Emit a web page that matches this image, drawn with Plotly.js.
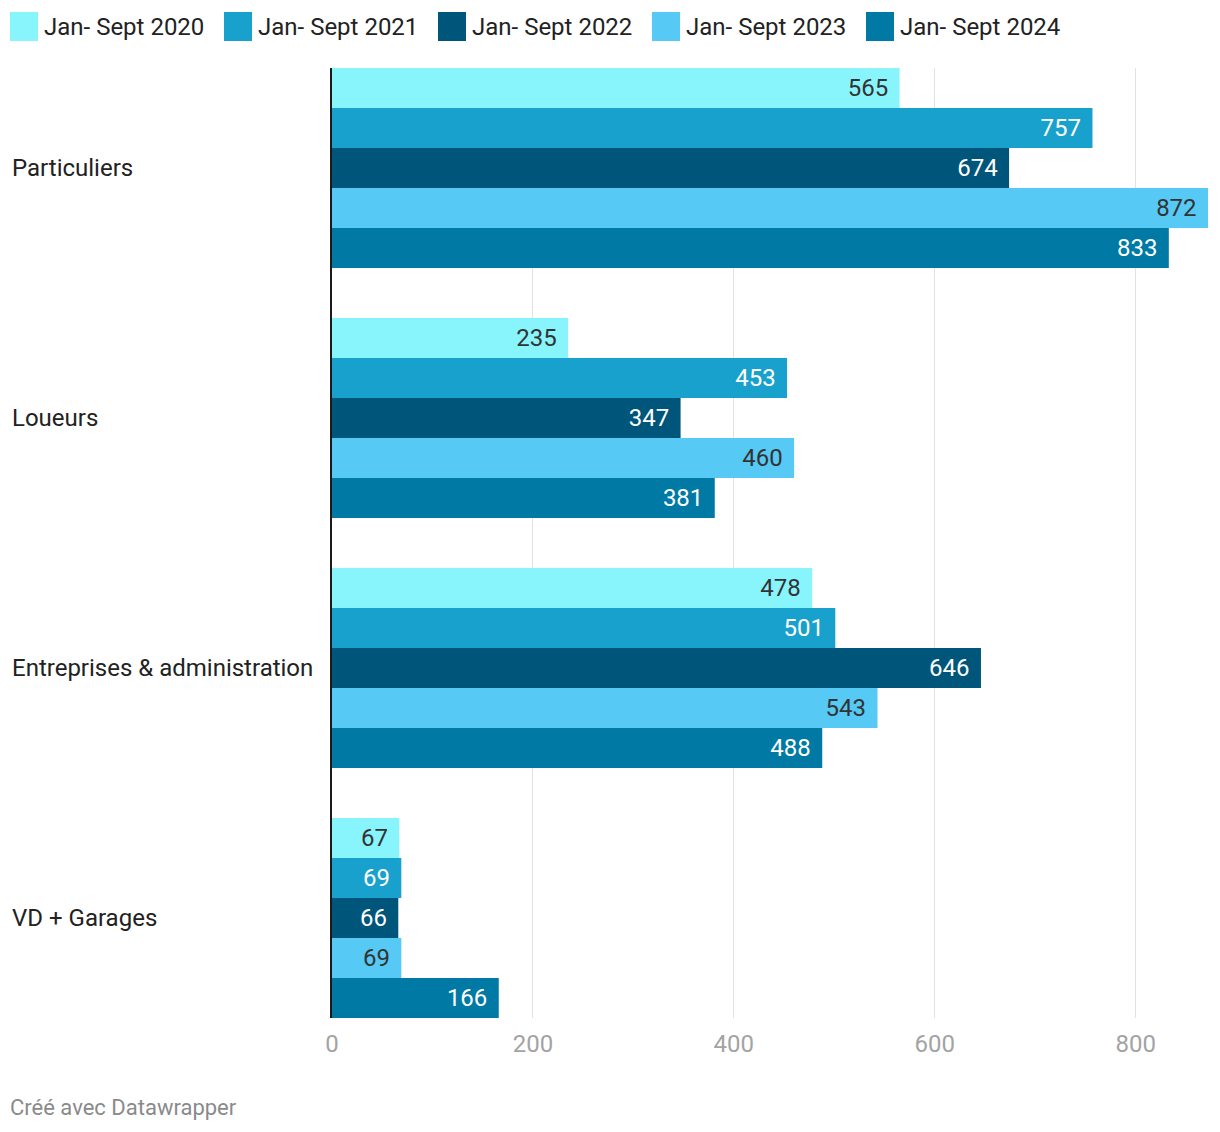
<!DOCTYPE html>
<html>
<head>
<meta charset="utf-8">
<script src="https://cdn.plot.ly/plotly-3.0.1.min.js"></script>
<style>html,body{margin:0;padding:0;background:#fff;}#chart{width:1220px;height:1132px;}</style>
</head>
<body>
<div id="chart"></div>
<script>
const categories = ["Particuliers", "Loueurs", "Entreprises & administration", "VD + Garages"];
const seriesNames = ["Jan- Sept 2020", "Jan- Sept 2021", "Jan- Sept 2022", "Jan- Sept 2023", "Jan- Sept 2024"];
const v2020 = [565, 235, 478, 67];
const v2021 = [757, 453, 501, 69];
const v2022 = [674, 347, 646, 66];
const v2023 = [872, 460, 543, 69];
const v2024 = [833, 381, 488, 166];
const xTicks = [0, 200, 400, 600, 800];
const footer = "Créé avec Datawrapper";

const seriesValues = [v2020, v2021, v2022, v2023, v2024];
const colors = ["#88f5fd", "#19a1cd", "#00557a", "#56c9f5", "#0079a5"];
const textColors = ["#333333", "#ffffff", "#ffffff", "#333333", "#ffffff"];

const W = 1220, H = 1132;
const M = {l: 332, r: 12, t: 68, b: 114};
const PW = W - M.l - M.r, PH = H - M.t - M.b;
const px = x => (x - M.l) / PW;
const py = y => (H - M.b - y) / PH;

const FONT = "Roboto, 'Noto Sans', sans-serif";
const FS = 24;

const traces = seriesNames.map((name, i) => ({
  type: "bar",
  orientation: "h",
  name: name,
  y: categories,
  x: seriesValues[i],
  marker: {color: colors[i], line: {width: 0}},
  text: seriesValues[i].map(v => String(v)),
  texttemplate: "%{text}\u00a0\u200a",
  textposition: "inside",
  insidetextanchor: "end",
  textangle: 0,
  constraintext: "none",
  insidetextfont: {family: FONT, size: FS, color: textColors[i]},
  hoverinfo: "skip",
  showlegend: false
}));

const shapes = [];
const annotations = [];
const legX0 = 10, legStep = 214, swW = 28, swTop = 12, swBot = 41;
seriesNames.forEach((name, i) => {
  const x0 = legX0 + i * legStep;
  shapes.push({type: "rect", xref: "paper", yref: "paper",
    x0: px(x0), x1: px(x0 + swW), y0: py(swBot), y1: py(swTop),
    fillcolor: colors[i], line: {width: 0}});
  annotations.push({xref: "paper", yref: "paper", x: px(x0 + swW + 4), y: py(26.5),
    xanchor: "left", yanchor: "middle", text: name, showarrow: false,
    font: {family: FONT, size: FS, color: "#222222"}});
});
categories.forEach(c => {
  annotations.push({xref: "paper", yref: "y", x: px(10), y: c, xanchor: "left", yanchor: "middle",
    text: c.replace("&", "&amp;"), showarrow: false, font: {family: FONT, size: FS, color: "#222222"}});
});
annotations.push({xref: "paper", yref: "paper", x: px(8), y: py(1107), xanchor: "left", yanchor: "middle",
  text: footer, showarrow: false, font: {family: FONT, size: 22, color: "#8a8a8a"}});

const layout = {
  width: W, height: H,
  margin: M,
  paper_bgcolor: "#ffffff", plot_bgcolor: "#ffffff",
  barmode: "group", bargap: 0.2, bargroupgap: 0,
  font: {family: FONT, size: FS, color: "#222222"},
  xaxis: {range: [0, 872], tickvals: xTicks, ticktext: xTicks.map(String),
    showgrid: true, gridcolor: "#e2e2e2", gridwidth: 1, zeroline: false,
    showline: false, ticks: "", tickfont: {family: FONT, size: FS, color: "#a3a3a3"}, ticklabelstandoff: 9,
    fixedrange: true},
  yaxis: {type: "category", range: [3.4, -0.4], showticklabels: false, ticks: "",
    showgrid: false, zeroline: false, showline: true, linecolor: "#1a1a1a", linewidth: 2, fixedrange: true},
  shapes: shapes,
  annotations: annotations,
  showlegend: false
};

Plotly.newPlot("chart", traces, layout, {displayModeBar: false, staticPlot: true});
</script>
</body>
</html>
